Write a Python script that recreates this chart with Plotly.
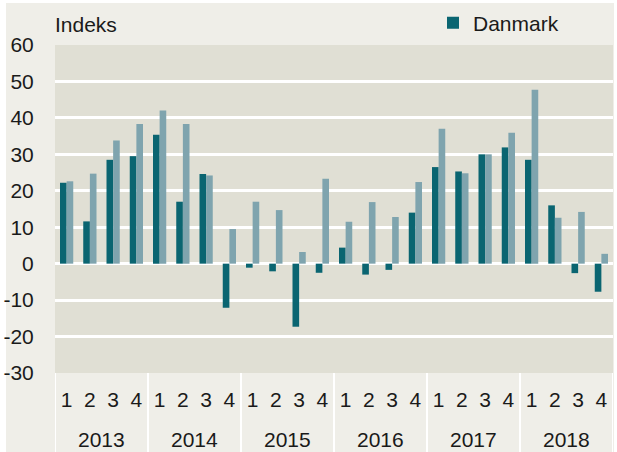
import plotly.graph_objects as go

years = ["2013"] * 4 + ["2014"] * 4 + ["2015"] * 4 + ["2016"] * 4 + ["2017"] * 4 + ["2018"] * 4
quarters = ["1", "2", "3", "4"] * 6
year_labels = ["2013", "2014", "2015", "2016", "2017", "2018"]

danmark = [22.2, 11.6, 28.5, 29.5, 35.4, 17.0, 24.6, -12.1,
           -1.1, -2.1, -17.3, -2.5, 4.4, -3.0, -1.7, 14.0,
           26.5, 25.3, 30.0, 31.9, 28.5, 16.0, -2.6, -7.7]
euro = [22.6, 24.7, 33.8, 38.3, 42.0, 38.3, 24.2, 9.5,
        17.0, 14.7, 3.2, 23.3, 11.5, 16.9, 12.8, 22.4,
        37.0, 24.8, 30.0, 35.9, 47.7, 12.6, 14.2, 2.7]

y_ticks = [60, 50, 40, 30, 20, 10, 0, -10, -20, -30]

DARK = "#0a6571"
LIGHT = "#7fa4ae"
PAPER = "#efeee8"
PLOTBG = "#e0dfd4"
FONT = "Liberation Sans, Arial, sans-serif"
FS = 21

cats = [f"{y}-{q}" for y, q in zip(years, quarters)]
n = len(cats)
year_centers = [cats.index(f"{y}-1") + 1.5 for y in year_labels]
dividers = [cats.index(f"{y}-1") - 0.5 for y in year_labels] + [n - 0.5]

fig = go.Figure()
fig.add_trace(go.Bar(x=cats, y=danmark, name="Danmark",
                     marker=dict(color=DARK, line=dict(width=0))))
fig.add_trace(go.Bar(x=cats, y=euro, name="Euroområdet",
                     marker=dict(color=LIGHT, line=dict(width=0)), showlegend=False))

W, H = 617, 452
L, R, T, B = 55, 4, 45, 79
pw, ph = W - L - R, H - T - B

def px_x(p):
    return (p - L) / pw

def px_y(p):
    return (H - B - p) / ph

shapes = [
    dict(type="rect", xref="paper", yref="paper", x0=px_x(-5), x1=px_x(6), y0=px_y(460), y1=px_y(-5),
         fillcolor="white", line=dict(width=0), layer="below"),
    dict(type="rect", xref="paper", yref="paper", x0=px_x(-5), x1=px_x(625), y0=px_y(3), y1=px_y(-5),
         fillcolor="white", line=dict(width=0), layer="below"),
    dict(type="rect", xref="paper", yref="paper", x0=px_x(614), x1=px_x(625), y0=px_y(460), y1=px_y(-5),
         fillcolor="white", line=dict(width=0), layer="below"),
]
for d in dividers:
    shapes.append(dict(type="line", xref="x", yref="paper", x0=d, x1=d, y0=0, y1=px_y(452),
                       line=dict(color="white", width=2), layer="above"))

annotations = [
    dict(text="Indeks", xref="paper", yref="paper", x=px_x(53), y=px_y(25),
         xanchor="left", yanchor="middle", showarrow=False, font=dict(size=FS)),
    dict(text="g", xref="paper", yref="paper", x=px_x(20), y=px_y(-14),
         xanchor="left", yanchor="bottom", showarrow=False, font=dict(size=FS)),
]
for xc, yl in zip(year_centers, year_labels):
    annotations.append(dict(text=yl, xref="x", yref="paper", x=xc, y=px_y(439),
                            xanchor="center", yanchor="middle", showarrow=False,
                            font=dict(size=FS)))

fig.update_layout(
    width=W, height=H,
    margin=dict(l=L, r=R, t=T, b=B, autoexpand=False),
    paper_bgcolor=PAPER,
    plot_bgcolor=PLOTBG,
    font=dict(family=FONT, size=FS, color="#1a1a1a"),
    barmode="group",
    bargap=0.43,
    bargroupgap=0,
    shapes=shapes,
    showlegend=True,
    legend=dict(xref="container", yref="container", x=433 / W, y=1 - 23 / H,
                xanchor="left", yanchor="middle",
                orientation="h", bgcolor="rgba(0,0,0,0)", font=dict(size=FS),
                itemwidth=30, borderwidth=0),
    annotations=annotations,
    xaxis=dict(type="category", categoryorder="array", categoryarray=cats,
               range=[-0.5, n - 0.5],
               tickmode="array", tickvals=cats, ticktext=quarters,
               showgrid=False, showline=False, zeroline=False,
               ticks="", tickfont=dict(size=FS), ticklabelstandoff=12),
    yaxis=dict(range=[-30, 60], tickvals=y_ticks, ticktext=[str(v) for v in y_ticks],
               showgrid=True, gridcolor="white", gridwidth=2.5,
               zeroline=True, zerolinecolor="white", zerolinewidth=2.5,
               ticks="outside", ticklen=16, tickcolor="rgba(0,0,0,0)",
               tickfont=dict(size=FS), showline=False),
)

fig.write_html("out.html", config={"displayModeBar": False},
               post_script="document.body.style.margin='0';")
